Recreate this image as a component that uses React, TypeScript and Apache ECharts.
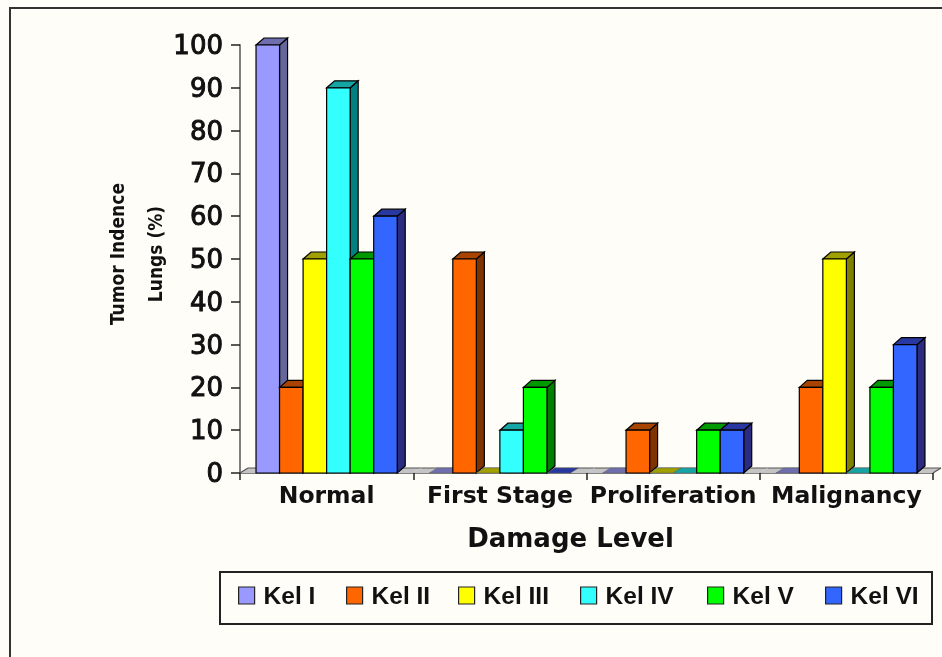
import React, { useEffect, useRef } from "react";
import * as echarts from "echarts";

const categories = ["Normal", "First Stage", "Proliferation", "Malignancy"];
const seriesNames = ["Kel I", "Kel II", "Kel III", "Kel IV", "Kel V", "Kel VI"];
const kel1 = [100, 0, 0, 0];
const kel2 = [20, 50, 10, 20];
const kel3 = [50, 0, 0, 50];
const kel4 = [90, 10, 0, 0];
const kel5 = [50, 20, 10, 20];
const kel6 = [60, 0, 10, 30];
const allValues = [kel1, kel2, kel3, kel4, kel5, kel6];
const yTicks = { min: 0, max: 100, interval: 10 };
const yTitle = "Tumor Indence\nLungs (%)";
const xTitle = "Damage Level";

const frontColors = ["#9999FF", "#FF6600", "#FFFF00", "#33FFFF", "#00FF00", "#3366FF"];
const sideColors = ["#66669A", "#7F3300", "#808000", "#008080", "#008000", "#2B2B80"];
const topColors = ["#6F6FB0", "#A84400", "#A0A000", "#16A5A5", "#009900", "#2838A0"];
const legendLefts = [238, 346, 458, 580, 707, 825];

const DX = 8;
const DY = 7;
const FLOOR_DY = 5;
const BAR_RATIO = 23.5 / 173;
const INK = "#111111";

function barRender(idx: number) {
  return (_params: any, api: any) => {
    const cat = api.value(0);
    const val = api.value(1);
    const base = api.coord([cat, 0]);
    const top = api.coord([cat, val]);
    const band = api.size([1, 0])[0];
    const w = band * BAR_RATIO;
    const x0 = base[0] - 3 * w + idx * w;
    const x1 = x0 + w;
    const yT = top[1];
    const yB = base[1];
    if (val === 0) {
      return {
        type: "polygon",
        shape: {
          points: [
            [x0, yB],
            [x0 + DX, yB - FLOOR_DY],
            [x1 + DX, yB - FLOOR_DY],
            [x1, yB],
          ],
        },
        style: { fill: topColors[idx], stroke: "#555555", lineWidth: 0.4 },
      };
    }
    const stroke = { stroke: "#000000", lineWidth: 1.2 };
    return {
      type: "group",
      children: [
        {
          type: "polygon",
          shape: { points: [[x1, yT], [x1 + DX, yT - DY], [x1 + DX, yB - DY], [x1, yB]] },
          style: { fill: sideColors[idx], ...stroke },
        },
        {
          type: "polygon",
          shape: { points: [[x0, yT], [x0 + DX, yT - DY], [x1 + DX, yT - DY], [x1, yT]] },
          style: { fill: topColors[idx], ...stroke },
        },
        {
          type: "rect",
          shape: { x: x0, y: yT, width: w, height: yB - yT },
          style: { fill: frontColors[idx], ...stroke },
        },
      ],
    };
  };
}

function floorRender(_params: any, api: any) {
  const cat = api.value(0);
  const base = api.coord([cat, 0]);
  const band = api.size([1, 0])[0];
  const x0 = base[0] - band / 2;
  const x1 = base[0] + band / 2;
  const y = base[1];
  const yBack = y - FLOOR_DY;
  const line = { stroke: "#555555", lineWidth: 1.2, fill: "none" };
  const children: any[] = [
    {
      type: "polygon",
      shape: { points: [[x0, y], [x0 + DX, yBack], [x1 + DX, yBack], [x1, y]] },
      style: { fill: "#C4C4C4", stroke: "none" },
    },
    {
      type: "polyline",
      shape: { points: [[x0 + DX, yBack], [x1 + DX, yBack]] },
      style: line,
    },
  ];
  if (cat === 0) {
    children.push({
      type: "polyline",
      shape: { points: [[x0, y], [x0 + DX, yBack]] },
      style: line,
    });
  }
  if (cat === categories.length - 1) {
    children.push({
      type: "polyline",
      shape: { points: [[x1, y], [x1 + DX, yBack]] },
      style: line,
    });
  }
  return { type: "group", children };
}

export default function App() {
  const ref = useRef<HTMLDivElement>(null);
  useEffect(() => {
    if (!ref.current) return;
    const chart = echarts.init(ref.current, undefined, { renderer: "svg" });
    chart.setOption({
      animation: false,
      backgroundColor: "#FFFDF7",
      grid: { left: 240, top: 45, width: 693, height: 428 },
      xAxis: {
        type: "category",
        data: categories,
        boundaryGap: true,
        axisLine: { show: true, lineStyle: { color: "#808080", width: 2 } },
        axisTick: { show: true, alignWithLabel: false, length: 7, lineStyle: { color: "#222222", width: 1.5 } },
        axisLabel: {
          margin: 10,
          interval: 0,
          fontFamily: "DejaVu Sans",
          fontWeight: "bold",
          fontSize: 23.5,
          color: INK,
        },
        splitLine: { show: false },
        name: xTitle,
        nameLocation: "middle",
        nameGap: 52,
        nameTextStyle: {
          fontFamily: "DejaVu Sans",
          fontWeight: "bold",
          fontSize: 26,
          color: INK,
          padding: [0, 32, 0, 0],
        },
      },
      yAxis: {
        type: "value",
        min: yTicks.min,
        max: yTicks.max,
        interval: yTicks.interval,
        axisLine: { show: true, lineStyle: { color: "#808080", width: 2 } },
        axisTick: { show: true, length: 9, lineStyle: { color: "#222222", width: 1.5 } },
        splitLine: { show: false },
        axisLabel: {
          margin: 17,
          fontFamily: "DejaVu Sans",
          fontSize: 26,
          color: INK,
          textBorderColor: INK,
          textBorderWidth: 1,
        },
        name: yTitle,
        nameLocation: "middle",
        nameRotate: 90,
        nameGap: 66,
        nameMoveOverlap: false,
        nameTextStyle: {
          fontFamily: "DejaVu Sans Condensed",
          fontWeight: "bold",
          fontSize: 19,
          lineHeight: 38,
          color: INK,
          padding: [0, 0, 0, 10],
        },
      },
      legend: seriesNames.map((name, i) => ({
        data: [name],
        left: legendLefts[i],
        top: 583,
        padding: 0,
        itemWidth: 16,
        itemHeight: 17,
        selectedMode: false,
        icon: "rect",
        itemStyle: { borderColor: "#222222", borderWidth: 1.2 },
        textStyle: {
          fontFamily: "Liberation Sans",
          fontWeight: "bold",
          fontSize: 24.5,
          color: INK,
          padding: [0, 0, 0, 4],
        },
      })),
      graphic: [
        {
          type: "rect",
          z: 0,
          silent: true,
          shape: { x: 10, y: 8, width: 1000, height: 700 },
          style: { fill: "none", stroke: "#333333", lineWidth: 2 },
        },
        {
          type: "rect",
          z: 0,
          silent: true,
          shape: { x: 220, y: 572, width: 712, height: 52 },
          style: { fill: "none", stroke: "#222222", lineWidth: 2 },
        },
      ],
      series: [
        {
          type: "custom",
          name: "floor",
          renderItem: floorRender,
          encode: { x: 0, y: 1 },
          data: categories.map((_, c) => [c, 0]),
          z: 1,
          silent: true,
        },
        ...seriesNames.map((name, i) => ({
          type: "custom",
          name,
          renderItem: barRender(i),
          encode: { x: 0, y: 1 },
          data: allValues[i].map((v, c) => [c, v]),
          itemStyle: { color: frontColors[i] },
          z: 2 + i,
          silent: true,
        })),
      ],
    });
    return () => chart.dispose();
  }, []);
  return (
    <div
      ref={ref}
      style={{ position: "fixed", left: 0, top: 0, width: 942, height: 657, filter: "blur(0.5px)" }}
    />
  );
}
